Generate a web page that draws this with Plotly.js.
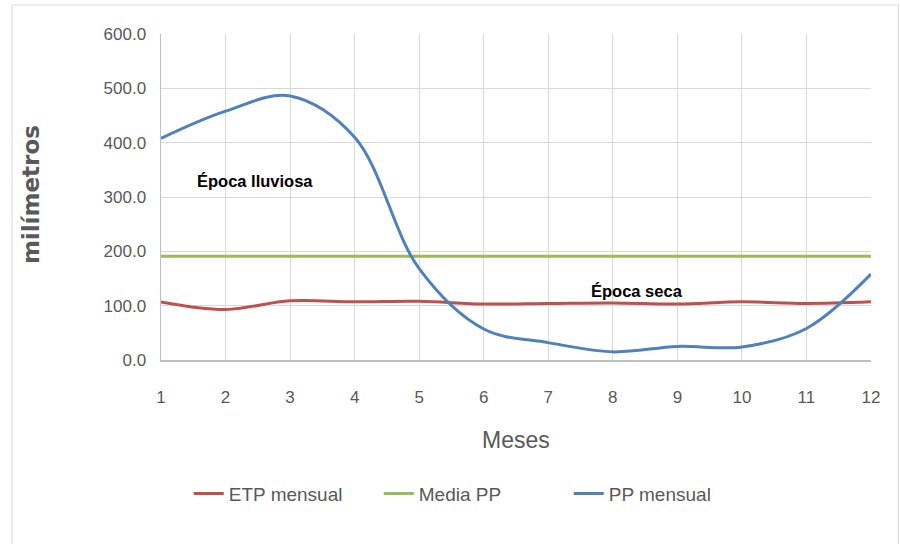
<!DOCTYPE html>
<html>
<head>
<meta charset="utf-8">
<script src="https://cdn.plot.ly/plotly-3.0.1.min.js"></script>
<style>
  html, body { margin: 0; padding: 0; background: #ffffff; }
  #chart { width: 900px; height: 544px; }
</style>
</head>
<body>
<div id="chart"></div>
<script>
// Monthly water balance: precipitation vs. evapotranspiration (mm)
const meses = [1, 2, 3, 4, 5, 6, 7, 8, 9, 10, 11, 12];
const etpMensual = [107, 93, 109, 107, 108, 103, 104, 105, 103, 107, 104, 107];
const mediaPP = [191, 191, 191, 191, 191, 191, 191, 191, 191, 191, 191, 191];
const ppMensual = [408, 458, 486, 410, 168, 57, 32, 15, 25, 24, 58, 158];

const yTicks = [0, 100, 200, 300, 400, 500, 600];
const yTickText = ["0.0", "100.0", "200.0", "300.0", "400.0", "500.0", "600.0"];

const FONT = "Liberation Sans, Arial, sans-serif";
const GREY = "#595959";

const lineTrace = (name, y, color) => ({
  type: "scatter",
  mode: "lines",
  name: name,
  x: meses,
  y: y,
  line: { color: color, width: 3, shape: "spline", smoothing: 1 },
  hoverinfo: "x+y+name"
});

const data = [
  lineTrace("ETP mensual", etpMensual, "#C0504D"),
  lineTrace("Media PP", mediaPP, "#9BBB59"),
  lineTrace("PP mensual", ppMensual, "#4F81BD")
];

const layout = {
  width: 900,
  height: 544,
  margin: { l: 161, r: 29, t: 34, b: 184 },
  paper_bgcolor: "#ffffff",
  plot_bgcolor: "#ffffff",
  font: { family: FONT, color: GREY, size: 17 },
  showlegend: true,
  legend: {
    orientation: "h",
    x: 0.4405, xanchor: "center",
    y: -0.41, yanchor: "middle",
    font: { family: FONT, size: 19, color: GREY },
    entrywidth: 145,
    entrywidthmode: "pixels",
    traceorder: "normal"
  },
  xaxis: {
    range: [1, 12],
    tickmode: "array",
    tickvals: meses,
    ticktext: meses.map(String),
    showgrid: true,
    gridcolor: "#d9d9d9",
    gridwidth: 1,
    showline: true,
    linecolor: "#bfbfbf",
    linewidth: 1.5,
    ticks: "",
    ticklabelstandoff: 21,
    tickfont: { family: FONT, size: 17, color: GREY },
    zeroline: false
  },
  yaxis: {
    range: [0, 600],
    tickmode: "array",
    tickvals: yTicks,
    ticktext: yTickText,
    showgrid: true,
    gridcolor: "#d9d9d9",
    gridwidth: 1,
    showline: true,
    linecolor: "#bfbfbf",
    linewidth: 1.5,
    ticks: "",
    ticklabelstandoff: 10,
    tickfont: { family: FONT, size: 17, color: GREY },
    zeroline: false
  },
  annotations: [
    // axis titles
    {
      x: 0.5, y: -0.245, xref: "paper", yref: "paper",
      text: "Meses", showarrow: false,
      xanchor: "center", yanchor: "middle",
      font: { family: FONT, size: 23, color: GREY }
    },
    {
      x: -0.183, y: 0.506, xref: "paper", yref: "paper",
      text: "<b>milímetros</b>", showarrow: false, textangle: -90,
      xanchor: "center", yanchor: "middle",
      font: { family: "DejaVu Sans, sans-serif", size: 23, color: GREY }
    },
    // season labels
    {
      x: 2.45, y: 330, xref: "x", yref: "y",
      text: "<b>Época lluviosa</b>", showarrow: false,
      font: { family: FONT, size: 16.5, color: "#000000" }
    },
    {
      x: 8.37, y: 127, xref: "x", yref: "y",
      text: "<b>Época seca</b>", showarrow: false,
      font: { family: FONT, size: 16.5, color: "#000000" }
    }
  ],
  shapes: [
    {
      type: "rect", xref: "paper", yref: "paper",
      x0: -0.2097, x1: 1.0386, y0: -0.6, y1: 1.089,
      line: { color: "#d9d9d9", width: 1 },
      fillcolor: "rgba(0,0,0,0)",
      layer: "below"
    }
  ]
};

Plotly.newPlot("chart", data, layout, { displayModeBar: false, staticPlot: true });
</script>
</body>
</html>
